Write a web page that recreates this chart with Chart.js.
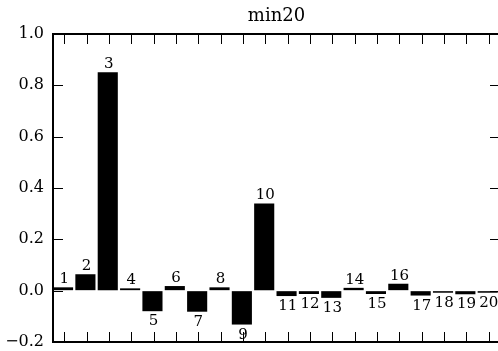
<!DOCTYPE html>
<html><head><meta charset="utf-8">
<script src="https://cdn.jsdelivr.net/npm/chart.js@4"></script>
<style>html,body{margin:0;padding:0;background:#fff;overflow:hidden}#wrap{width:498px;height:351px;overflow:hidden}</style>
</head><body><div id="wrap"><canvas id="c" width="500" height="351"></canvas></div>
<script>
const chartTitle = 'min20';
const categories = ['1','2','3','4','5','6','7','8','9','10','11','12','13','14','15','16','17','18','19','20'];
const values = [0.013, 0.064, 0.851, 0.009, -0.080, 0.018, -0.082, 0.013, -0.132, 0.340,
                -0.021, -0.013, -0.028, 0.011, -0.013, 0.027, -0.019, -0.008, -0.014, -0.008];
const yTicks = [-0.2, 0.0, 0.2, 0.4, 0.6, 0.8, 1.0];

const FONT = 'DejaVu Serif';
const fmt = v => (Math.abs(v) < 1e-9 ? 0 : v).toFixed(1).replace('-', '\u2212');

const framePlugin = {
  id: 'frame',
  afterDatasetsDraw(chart) {
    const ctx = chart.ctx, ca = chart.chartArea;
    const xs = chart.scales.x, ys = chart.scales.y;
    ctx.save();
    // bar labels
    ctx.fillStyle = '#000';
    ctx.font = '15px "' + FONT + '"';
    ctx.textAlign = 'center';
    ctx.textBaseline = 'alphabetic';
    categories.forEach((c, i) => {
      const x = xs.getPixelForValue(i + 0.5);
      const v = values[i];
      const yv = ys.getPixelForValue(v);
      if (v >= 0) ctx.fillText(c, x, yv - 4);
      else ctx.fillText(c, x, yv + 14);
    });
    // spines
    ctx.strokeStyle = '#000';
    ctx.lineWidth = 2;
    ctx.beginPath();
    ctx.rect(ca.left, ca.top, ca.right - ca.left, ca.bottom - ca.top);
    ctx.stroke();
    // ticks (inward)
    ctx.lineWidth = 1;
    const L = 10;
    ctx.beginPath();
    yTicks.forEach(v => {
      const y = Math.round(ys.getPixelForValue(v)) + 0.5;
      ctx.moveTo(ca.left, y); ctx.lineTo(ca.left + L, y);
      ctx.moveTo(ca.right, y); ctx.lineTo(ca.right - L, y);
    });
    categories.forEach((c, i) => {
      const x = Math.round(xs.getPixelForValue(i + 0.5)) + 0.5;
      ctx.moveTo(x, ca.top); ctx.lineTo(x, ca.top + L);
      ctx.moveTo(x, ca.bottom); ctx.lineTo(x, ca.bottom - L);
    });
    ctx.stroke();
    ctx.restore();
  }
};

new Chart(document.getElementById('c'), {
  type: 'bar',
  data: {
    datasets: [{
      data: values.map((v, i) => ({ x: i + 0.45, y: v })),
      backgroundColor: '#000',
      borderWidth: 0,
      barPercentage: 0.9,
      categoryPercentage: 1.0
    }]
  },
  options: {
    responsive: false,
    animation: false,
    devicePixelRatio: 1,
    layout: { padding: 0 },
    plugins: {
      legend: { display: false },
      tooltip: { enabled: false },
      title: {
        display: true, text: chartTitle, fullSize: false, color: '#000',
        font: { family: FONT, size: 18, weight: 'normal', lineHeight: 1.2 },
        padding: { top: 6, bottom: 6.4 }
      }
    },
    scales: {
      x: {
        type: 'linear', min: 0, max: categories.length, offset: false,
        grid: { display: false, drawTicks: false }, border: { display: false },
        ticks: { display: false },
        afterFit(s) { s.height = 9; }
      },
      y: {
        min: -0.2, max: 1.0,
        afterBuildTicks(s) { s.ticks = yTicks.map(v => ({ value: v })); },
        grid: { display: true, drawOnChartArea: false, drawTicks: true, tickLength: 9, color: 'rgba(0,0,0,0)' },
        border: { display: false },
        ticks: { color: '#000', padding: 0, font: { family: FONT, size: 16, lineHeight: 1 }, callback: v => fmt(v) },
        afterFit(s) { s.width = 53; }
      }
    }
  },
  plugins: [framePlugin]
});
</script>
</body></html>
